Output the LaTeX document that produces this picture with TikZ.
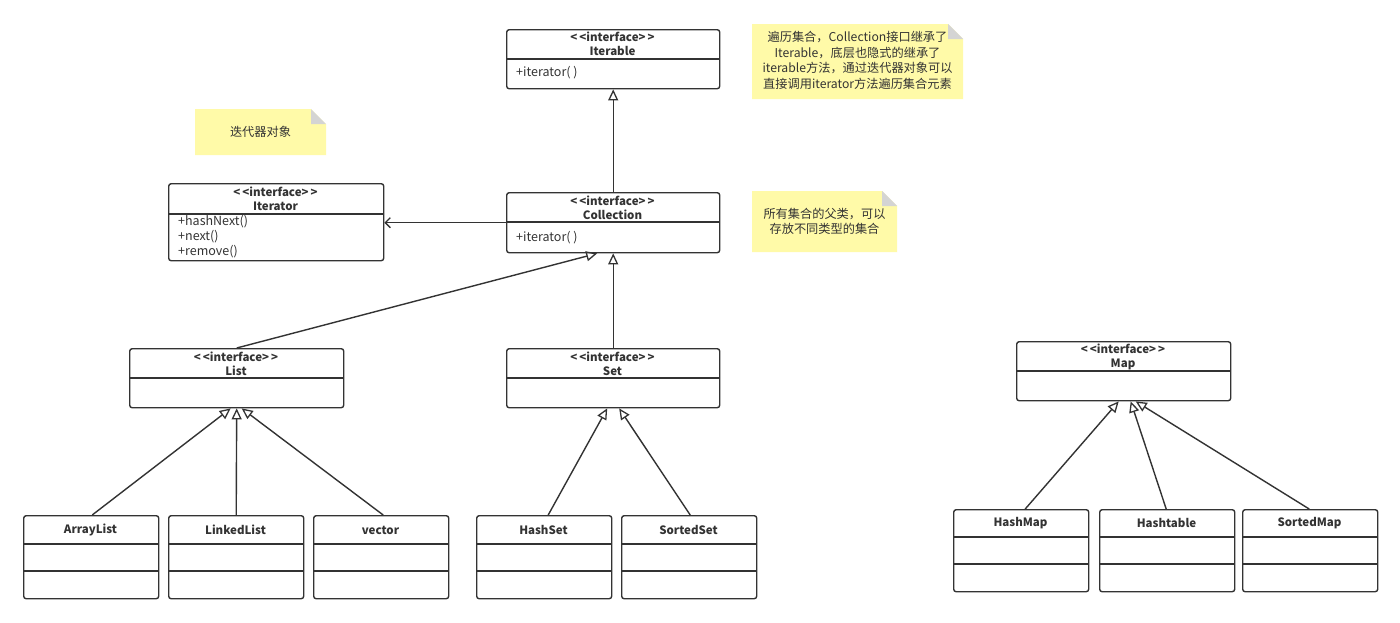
\documentclass[tikz,border=0pt]{standalone}
\usepackage{fontspec}
\setmainfont{Noto Sans CJK SC}
\usetikzlibrary{arrows.meta}
\definecolor{notey}{HTML}{FFFAA8}
\definecolor{foldg}{HTML}{D4D4D4}
\definecolor{ln}{HTML}{333333}
\newcommand{\stereo}{{<}\kern2pt{<}interface{>}\kern2pt{>}}
\tikzset{
  umlbox/.style={draw=ln, line width=1.4pt, rounded corners=2.5pt, anchor=north west, inner sep=0pt, fill=white},
  divl/.style={draw=ln, line width=1.2pt},
  hd/.style={font=\fontsize{11.5}{14}\selectfont\bfseries, inner sep=0pt, text=ln, align=center},
  mt/.style={font=\fontsize{12.5}{12}\selectfont, inner sep=0pt, anchor=west, text=ln},
  notetxt/.style={font=\fontsize{12.2}{15.5}\selectfont, align=center, inner sep=0pt, text=black!80},
  inh/.style={draw=ln, line width=1.4pt, -{Triangle[open,length=11pt,width=10pt,line width=1.3pt]}},
  assoc/.style={draw=ln, line width=1.4pt, -{Straight Barb[length=5pt,width=10pt,line width=1.3pt]}},
}
\newcommand{\notebox}[5]{% name, x1,y1,x2,y2
  \fill[notey] (#2,#3) -- ({#4-15},#3) -- (#4,{#3+15}) -- (#4,#5) -- (#2,#5) -- cycle;
  \fill[foldg] ({#4-15},#3) -- (#4,{#3+15}) -- ({#4-15},{#3+15}) -- cycle;
  \coordinate (#1) at ({(#2+#4)/2},{(#3+#5)/2});
}
\newcommand{\leaf}[6]{% name, x1, y1, y2, d1, d2
  \node[umlbox, minimum width=135pt, minimum height={#4-#3}] (#1) at (#2,#3) {};
  \draw[divl] (#2,#5) -- ({#2+135},#5);
  \draw[divl] (#2,#6) -- ({#2+135},#6);
}
\begin{document}
\begin{tikzpicture}[x=1pt,y=-1pt]
\useasboundingbox[fill=white] (0,0) rectangle (1400,622);

% notes
\notebox{n1}{752}{24}{963}{99}
\node[notetxt] (n1t) at ([yshift=1pt]n1) {遍历集合，Collection接口继承了\\Iterable，底层也隐式的继承了\\iterable方法，通过迭代器对象可以\\直接调用iterator方法遍历集合元素};
\notebox{n2}{195}{109}{326}{155}
\node[notetxt] (n2t) at (n2) {迭代器对象};
\notebox{n3}{752}{191}{897}{252}
\node[notetxt] (n3t) at (n3) {所有集合的父类，可以\\存放不同类型的集合};

% Iterable
\node[umlbox, minimum width=213pt, minimum height=59pt] (iterable) at (506,29) {};
\draw[divl] (506,59) -- (719,59);
\node[hd] (iterableh) at (612.5,44) {\stereo\\Iterable};
\node[mt] (iterablem) at (516,73) {+iterator( )};

% Iterator
\node[umlbox, minimum width=215pt, minimum height=77pt] (iterator) at (168,183) {};
\draw[divl] (168,214) -- (383,214);
\node[hd] (iteratorh) at (275.5,198.5) {\stereo\\Iterator};
\node[mt] (iteratorm1) at (178,222) {+hashNext()};
\node[mt] (iteratorm2) at (178,237) {+next()};
\node[mt] (iteratorm3) at (178,252) {+remove()};

% Collection
\node[umlbox, minimum width=213pt, minimum height=60pt] (collection) at (506,192) {};
\draw[divl] (506,222) -- (719,222);
\node[hd] (collectionh) at (612.5,207.5) {\stereo\\Collection};
\node[mt] (collectionm) at (516,238) {+iterator( )};

% List, Set, Map
\node[umlbox, minimum width=214pt, minimum height=59pt] (list) at (129,348) {};
\draw[divl] (129,378) -- (343,378);
\node[hd] (listh) at (236,363.5) {\stereo\\List};

\node[umlbox, minimum width=213pt, minimum height=59pt] (set) at (506,348) {};
\draw[divl] (506,378) -- (719,378);
\node[hd] (seth) at (612.5,363.5) {\stereo\\Set};

\node[umlbox, minimum width=214pt, minimum height=59pt] (map) at (1016,341) {};
\draw[divl] (1016,371) -- (1230,371);
\node[hd] (maph) at (1123,356.5) {\stereo\\Map};

% leaf classes
\leaf{arraylist}{23}{515}{598}{544}{571}
\node[hd] (arraylistt) at (90.5,530) {ArrayList};
\leaf{linkedlist}{168}{515}{598}{544}{571}
\node[hd] (linkedlistt) at (235.5,530) {LinkedList};
\leaf{vector}{313}{515}{598}{544}{571}
\node[hd] (vectort) at (380.5,530) {vector};
\leaf{hashset}{476}{515}{598}{544}{571}
\node[hd] (hashsett) at (543.5,530) {HashSet};
\leaf{sortedset}{621}{515}{598}{544}{571}
\node[hd] (sortedsett) at (688.5,530) {SortedSet};
\leaf{hashmap}{953}{509}{591}{537}{564}
\node[hd] (hashmapt) at (1020.5,523) {HashMap};
\leaf{hashtable}{1099}{509}{591}{537}{564}
\node[hd] (hashtablet) at (1166.5,523) {Hashtable};
\leaf{sortedmap}{1242}{509}{591}{537}{564}
\node[hd] (sortedmapt) at (1309.5,523) {SortedMap};

% connectors
\draw[inh] (collection.north) -- (iterable.south);
\draw[assoc] (collection.west) -- (collection.west -| iterator.east);
\draw[inh] (list.north) -- ([xshift=-16pt]collection.south);
\draw[inh] (set.north) -- (collection.south);
\draw[inh] ([xshift=1pt]arraylist.north) -- ([xshift=-6pt]list.south);
\draw[inh] (linkedlist.north) -- (list.south);
\draw[inh] ([xshift=2pt]vector.north) -- ([xshift=5pt]list.south);
\draw[inh] ([xshift=4pt]hashset.north) -- ([xshift=-6pt]set.south);
\draw[inh] ([xshift=1pt]sortedset.north) -- ([xshift=6pt]set.south);
\draw[inh] ([xshift=4pt]hashmap.north) -- ([xshift=-5pt]map.south);
\draw[inh] ([xshift=-1pt]hashtable.north) -- ([xshift=7pt]map.south);
\draw[inh] ([xshift=-1pt]sortedmap.north) -- ([xshift=12pt]map.south);
\end{tikzpicture}
\end{document}
